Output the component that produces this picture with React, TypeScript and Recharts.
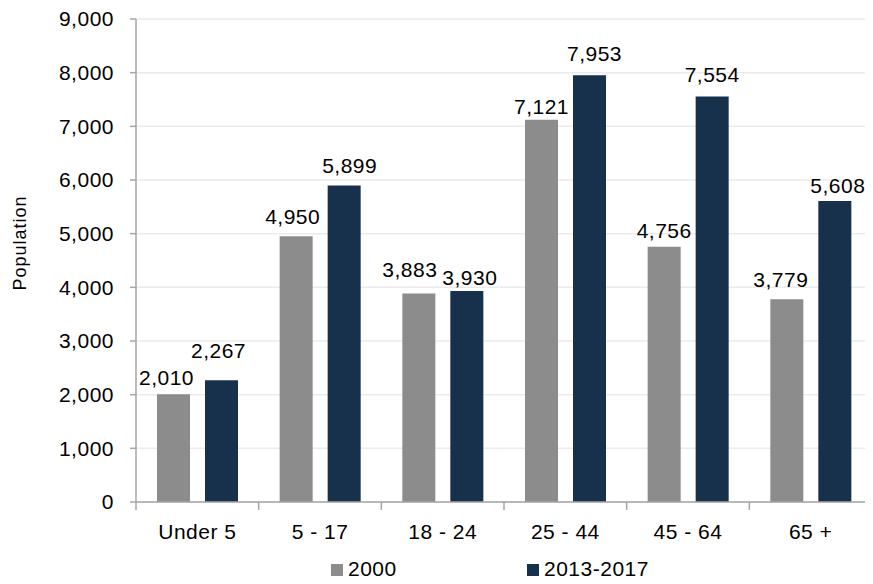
import React from 'react';
import { BarChart, Bar, XAxis, YAxis, CartesianGrid, LabelList, Legend } from 'recharts';

const categories = ['Under 5', '5 - 17', '18 - 24', '25 - 44', '45 - 64', '65 +'];
const pop2000 = [2010, 4950, 3883, 7121, 4756, 3779];
const pop2013 = [2267, 5899, 3930, 7953, 7554, 5608];
const yTicks = [0, 1000, 2000, 3000, 4000, 5000, 6000, 7000, 8000, 9000];
const seriesNames = ['2000', '2013-2017'];

// label nudges (styling only)
const nudgeX2000 = [-7, -3.5, -9, 0, 0, -6];
const gap2000 = [9, 12, 17, 6, 9, 12];
const nudgeX2013 = [-3, 5.5, 3, 5, 0, 3];
const gap2013 = [22, 12, 6, 14, 15, 8];

const data = categories.map((c, i) => ({ cat: c, a: pop2000[i], b: pop2013[i] }));

const FONT = '"Liberation Sans", Arial, sans-serif';
const FS = 21;
const LS = 0.5;
const GRAY = '#8c8c8c';
const NAVY = '#17304b';
const AXIS = '#a6a6a6';

const fmt = (v: number) => Number(v).toLocaleString('en-US');

const makeLabel = (dxArr: number[], gapArr: number[]) => (props: any) => {
  const vb = props.viewBox || {};
  const x = vb.x ?? props.x;
  const y = vb.y ?? props.y;
  const w = vb.width ?? props.width;
  const i = props.index ?? 0;
  return (
    <text
      x={x + w / 2 + dxArr[i]}
      y={y - gapArr[i]}
      textAnchor="middle"
      fontFamily={FONT}
      fontSize={FS}
      letterSpacing={LS}
      fill="#000"
    >
      {fmt(props.value)}
    </text>
  );
};

const XTick = (props: any) => {
  const { x, y, payload, index, visibleTicksCount } = props;
  const off = payload.offset || 0;
  const last = index === visibleTicksCount - 1;
  return (
    <g>
      <line x1={x - off} y1={y} x2={x - off} y2={y + 8} stroke={AXIS} strokeWidth={1.5} />
      {last && <line x1={x + off} y1={y} x2={x + off} y2={y + 8} stroke={AXIS} strokeWidth={1.5} />}
      <text x={x} y={y + 37} textAnchor="middle" fontFamily={FONT} fontSize={FS} letterSpacing={LS} fill="#000">
        {payload.value}
      </text>
    </g>
  );
};

const LegendContent = () => (
  <div style={{ position: 'relative', height: 42, fontFamily: FONT, fontSize: FS, letterSpacing: LS, color: '#000' }}>
    {[GRAY, NAVY].map((c, i) => (
      <div key={i} style={{ position: 'absolute', left: i === 0 ? 331 : 527, top: 15, display: 'flex', alignItems: 'flex-end', lineHeight: '24px' }}>
        <span style={{ display: 'inline-block', width: 12, height: 12, background: c, marginRight: 5, marginBottom: 5 }} />
        <span>{seriesNames[i]}</span>
      </div>
    ))}
  </div>
);

export default function App() {
  return (
    <div style={{ margin: -8, width: 873, height: 584, background: '#fff' }}>
      <BarChart
        width={873}
        height={584}
        data={data}
        margin={{ top: 19, right: 1, bottom: 0, left: 0 }}
        barCategoryGap={21}
        barGap={15}
      >
        <CartesianGrid horizontal vertical={false} stroke="#ebebeb" strokeWidth={1.5} />
        <XAxis
          dataKey="cat"
          height={40}
          tickLine={false}
          tickSize={0}
          tickMargin={0}
          axisLine={{ stroke: AXIS, strokeWidth: 1.5 }}
          tick={<XTick />}
          interval={0}
        />
        <YAxis
          width={136}
          domain={[0, 9000]}
          ticks={yTicks}
          tickFormatter={fmt}
          tickSize={6}
          tickMargin={16}
          tickLine={{ stroke: AXIS, strokeWidth: 1.5 }}
          axisLine={{ stroke: AXIS, strokeWidth: 1.5 }}
          tick={{ fill: '#000', fontFamily: FONT, fontSize: FS, letterSpacing: LS }}
          label={{
            content: () => (
              <text
                x={26}
                y={243}
                transform="rotate(-90 26 243)"
                textAnchor="middle"
                fontFamily={FONT}
                fontSize={18}
                letterSpacing={1}
                fill="#000"
              >
                Population
              </text>
            ),
          }}
        />
        <Legend verticalAlign="bottom" height={42} content={<LegendContent />} />
        <Bar dataKey="a" name={seriesNames[0]} fill={GRAY} isAnimationActive={false}>
          <LabelList dataKey="a" content={makeLabel(nudgeX2000, gap2000)} />
        </Bar>
        <Bar dataKey="b" name={seriesNames[1]} fill={NAVY} isAnimationActive={false}>
          <LabelList dataKey="b" content={makeLabel(nudgeX2013, gap2013)} />
        </Bar>
      </BarChart>
    </div>
  );
}
